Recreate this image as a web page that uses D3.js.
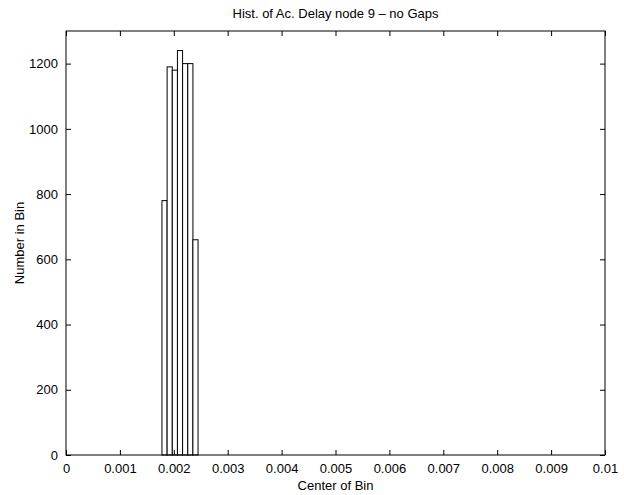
<!DOCTYPE html>
<html>
<head>
<meta charset="utf-8">
<script src="https://cdn.jsdelivr.net/npm/d3@7"></script>
<style>
  html, body { margin: 0; padding: 0; background: #fff; }
  svg { display: block; }
  text { font-family: "Liberation Sans", Arial, Helvetica, sans-serif; fill: #000; }
</style>
</head>
<body>
<svg id="chart" width="624" height="495"></svg>
<script>
// Histogram bin centers (seconds) and counts
const binCenters = [0.001828, 0.001924, 0.002020, 0.002115, 0.002211, 0.002307, 0.002402];
const binCounts = [780, 1190, 1180, 1240, 1200, 1200, 660];
const binWidth = 0.0000957;

const xTicks = [0, 0.001, 0.002, 0.003, 0.004, 0.005, 0.006, 0.007, 0.008, 0.009, 0.01];
const yTicks = [0, 200, 400, 600, 800, 1000, 1200];

const titleText = "Hist. of Ac. Delay node 9 \u2013 no Gaps";
const xLabelText = "Center of Bin";
const yLabelText = "Number in Bin";

const margin = { left: 66, right: 19, top: 31, bottom: 40 };
const W = 624, H = 495;
const fontSize = 13;
const svg = d3.select("#chart");

const x = d3.scaleLinear().domain([0, 0.01]).range([margin.left, W - margin.right]);
const y = d3.scaleLinear().domain([0, 1300]).range([H - margin.bottom, margin.top]);

const fmtX = d => d === 0 ? "0" : String(+d.toFixed(3));

// bars
svg.append("g").selectAll("rect")
  .data(binCenters.map((c, i) => ({ c, n: binCounts[i] })))
  .join("rect")
  .attr("x", d => x(d.c - binWidth / 2))
  .attr("y", d => y(d.n))
  .attr("width", d => x(d.c + binWidth / 2) - x(d.c - binWidth / 2))
  .attr("height", d => y(0) - y(d.n))
  .attr("fill", "#fff")
  .attr("stroke", "#000")
  .attr("stroke-width", 1);

const tickLen = 5;
const styleAxis = g => {
  g.select(".domain").remove();
  g.selectAll(".tick line").attr("stroke", "#000");
  g.selectAll(".tick text").attr("font-size", fontSize);
};

// bottom axis (ticks pointing inward)
svg.append("g")
  .attr("transform", `translate(0,${y(0)})`)
  .call(d3.axisBottom(x).tickValues(xTicks).tickFormat(fmtX).tickSizeInner(-tickLen).tickSizeOuter(0).tickPadding(9))
  .call(styleAxis);

// top axis ticks
svg.append("g")
  .attr("transform", `translate(0,${y(1300)})`)
  .call(d3.axisTop(x).tickValues(xTicks).tickFormat("").tickSizeInner(-tickLen).tickSizeOuter(0))
  .call(styleAxis);

// left axis
svg.append("g")
  .attr("transform", `translate(${x(0)},0)`)
  .call(d3.axisLeft(y).tickValues(yTicks).tickFormat(d3.format("d")).tickSizeInner(-tickLen).tickSizeOuter(0).tickPadding(8))
  .call(styleAxis);

// right axis ticks
svg.append("g")
  .attr("transform", `translate(${x(0.01)},0)`)
  .call(d3.axisRight(y).tickValues(yTicks).tickFormat("").tickSizeInner(-tickLen).tickSizeOuter(0))
  .call(styleAxis);

// frame
svg.append("rect")
  .attr("x", x(0)).attr("y", y(1300))
  .attr("width", x(0.01) - x(0)).attr("height", y(0) - y(1300))
  .attr("fill", "none").attr("stroke", "#000").attr("stroke-width", 1);

// title and axis labels
svg.append("text")
  .attr("x", (x(0) + x(0.01)) / 2).attr("y", 18)
  .attr("text-anchor", "middle").attr("font-size", fontSize)
  .text(titleText);

svg.append("text")
  .attr("x", (x(0) + x(0.01)) / 2).attr("y", 490)
  .attr("text-anchor", "middle").attr("font-size", fontSize)
  .text(xLabelText);

svg.append("text")
  .attr("transform", `translate(24,${(y(0) + y(1300)) / 2}) rotate(-90)`)
  .attr("text-anchor", "middle").attr("font-size", fontSize)
  .text(yLabelText);
</script>
</body>
</html>
